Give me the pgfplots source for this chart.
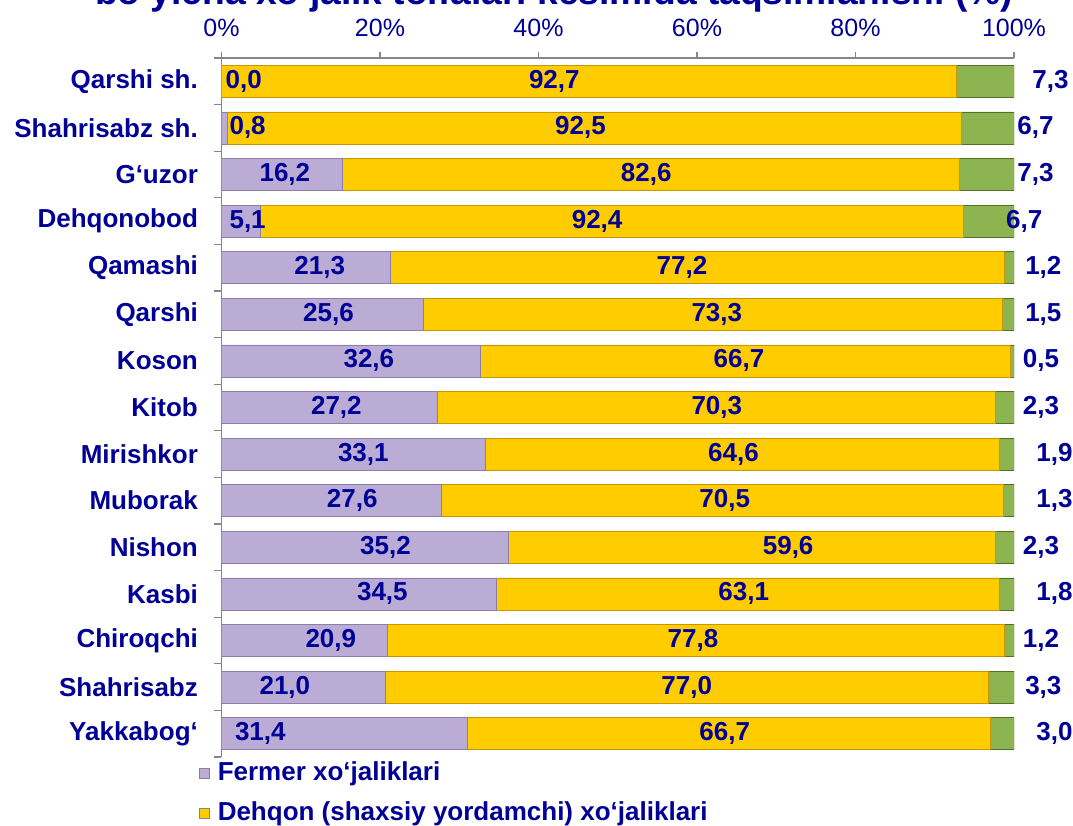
\documentclass[border=0pt]{standalone}
\usepackage{fontspec}
\setmainfont{Liberation Sans}
\usepackage{pgfplots}
\usepackage{pgfplotstable}
\pgfplotsset{compat=1.18}

\definecolor{navy}{RGB}{0,0,150}
\definecolor{axgray}{RGB}{134,134,134}
\definecolor{fMid}{RGB}{186,172,212}
\definecolor{fEdge}{RGB}{140,125,170}
\definecolor{dMid}{RGB}{255,204,0}
\definecolor{dEdge}{RGB}{200,150,0}
\definecolor{qMid}{RGB}{140,180,80}
\definecolor{qEdge}{RGB}{85,110,40}

\newcommand{\lab}{\fontsize{19.5pt}{23pt}\selectfont\bfseries}
\newcommand{\ticklab}{\fontsize{18.75pt}{22pt}\selectfont}

% y = 0 is the bottom row; a, b, c = shares; la, lb, lc = label positions (%)
\pgfplotstableread{
y name a b c la lb lc
0 {Yakkabog‘} 31.4 66.7 3.0 4.9 63.5 105.1
1 {Shahrisabz\ } 21.0 77.0 3.3 8.0 58.7 103.7
2 {Chiroqchi} 20.9 77.8 1.2 13.8 59.5 103.4
3 {Kasbi} 34.5 63.1 1.8 20.3 65.9 105.1
4 {Nishon} 35.2 59.6 2.3 20.7 71.5 103.4
5 {Muborak} 27.6 70.5 1.3 16.5 63.5 105.1
6 {Mirishkor} 33.1 64.6 1.9 17.9 64.6 105.1
7 {Kitob} 27.2 70.3 2.3 14.5 62.5 103.4
8 {Koson} 32.6 66.7 0.5 18.6 65.3 103.4
9 {Qarshi} 25.6 73.3 1.5 13.5 62.5 103.7
10 {Qamashi} 21.3 77.2 1.2 12.4 58.1 103.7
11 {Dehqonobod} 5.1 92.4 6.7 3.3 47.4 101.3
12 {G‘uzor} 16.2 82.6 7.3 8.0 53.6 102.7
13 {Shahrisabz sh.} 0.8 92.5 6.7 3.3 45.3 102.7
14 {Qarshi sh.} 0.0 92.7 7.3 2.8 42.0 104.6
}\data
% 100% stacked: each row scaled to its own total
\pgfplotstablecreatecol[create col/expr={100*\thisrow{a}/(\thisrow{a}+\thisrow{b}+\thisrow{c})}]{na}{\data}
\pgfplotstablecreatecol[create col/expr={100*\thisrow{b}/(\thisrow{a}+\thisrow{b}+\thisrow{c})}]{nb}{\data}
\pgfplotstablecreatecol[create col/expr={100*\thisrow{c}/(\thisrow{a}+\thisrow{b}+\thisrow{c})}]{nc}{\data}

\pgfplotsset{
  common/.style={
    at={(166.1pt,575.25pt)}, anchor=north west,
    scale only axis, width=594.4pt, height=524.25pt,
    xmin=0, xmax=100, ymin=-0.5, ymax=14.5,
  },
  sqimg/.style={legend image code/.code={\draw[##1,draw=axgray,line width=0.4pt] (0pt,-3.75pt) rectangle (7.5pt,3.75pt);}},
  vals/.style={draw=none, mark=none, point meta=explicit, nodes near coords,
    every node near coord/.append style={anchor=center, font=\lab, text=navy}},
}

\begin{document}
\begin{tikzpicture}
\useasboundingbox (0,0) rectangle (804.75pt,618.75pt);
\clip (0,0) rectangle (804.75pt,618.75pt);

\node[anchor=base, font=\fontsize{27.9pt}{33pt}\selectfont\bfseries, text=navy]
  at (415.5pt,615pt) {bo‘yicha xo‘jalik toifalari kesimida taqsimlanishi (\%)};

\begin{axis}[common,
  xbar stacked, bar width=24pt,
  axis x line*=top, axis y line*=left,
  axis line style={draw=axgray, line width=0.8pt},
  tick align=outside,
  tick style={draw=axgray, line width=0.8pt},
  major tick length=4.5pt, minor tick length=5.25pt,
  xtick={0,20,...,100},
  xticklabel={\pgfmathprintnumber{\tick}\%},
  /pgf/number format/assume math mode=true,
  xticklabel style={font=\ticklab, text=navy, anchor=base, inner sep=0pt, yshift=11.5pt},
  ytick={0,...,14},
  yticklabels from table={\data}{name},
  major y tick style={draw=none},
  minor ytick={-0.5,0.5,...,14.5},
  yticklabel style={font=\lab, text=navy, anchor=east, inner sep=0pt, xshift=-13pt},
  legend style={at={(axis description cs:-0.0284,-0.004)}, anchor=north west,
    draw=none, fill=none, inner sep=0pt, font=\lab, text=navy,
    nodes={inner sep=0pt, text height=15pt, text depth=4.5pt},
    row sep=10.5pt, column sep=6pt},
  legend cell align=left,
]
\addplot[sqimg, fill=fMid, draw=fEdge, line width=0.5pt]
  table[x=na, y=y] {\data};
\addplot[sqimg, fill=dMid, draw=dEdge, line width=0.5pt]
  table[x=nb, y=y] {\data};
\addplot[sqimg, fill=qMid, draw=qEdge, line width=0.5pt]
  table[x=nc, y=y] {\data};
\legend{Fermer xo‘jaliklari, Dehqon (shaxsiy yordamchi) xo‘jaliklari}
\end{axis}

% value labels
\begin{axis}[common, hide axis, clip=false,
  /pgf/number format/fixed, /pgf/number format/fixed zerofill,
  /pgf/number format/precision=1, /pgf/number format/use comma,
  /pgf/number format/assume math mode=true]
\addplot[vals] table[x=la, y=y, meta=a] {\data};
\addplot[vals] table[x=lb, y=y, meta=b] {\data};
\addplot[vals] table[x=lc, y=y, meta=c] {\data};
\end{axis}
\end{tikzpicture}
\end{document}
